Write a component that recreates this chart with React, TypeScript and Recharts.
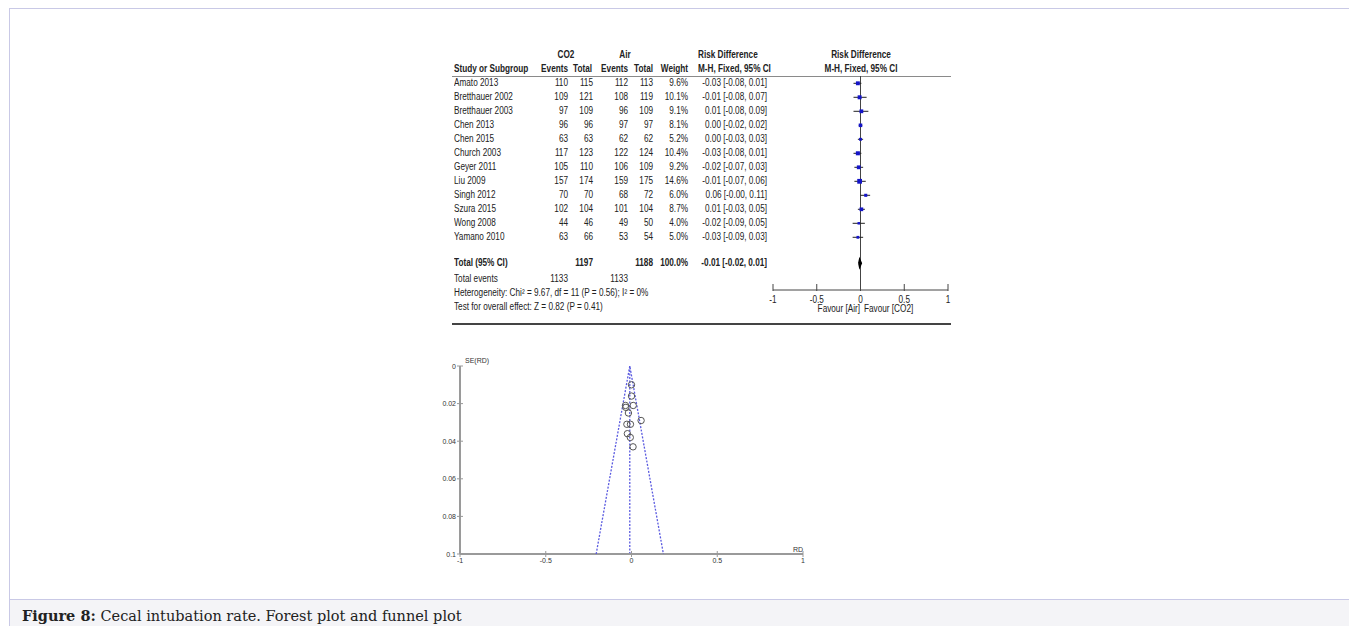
import React from "react";
import { ScatterChart, Scatter, XAxis, YAxis, ErrorBar, ReferenceLine } from "recharts";

// per-study counts and risk differences (CO2 vs Air)
const studies = [
  "Amato 2013",
  "Bretthauer 2002",
  "Bretthauer 2003",
  "Chen 2013",
  "Chen 2015",
  "Church 2003",
  "Geyer 2011",
  "Liu 2009",
  "Singh 2012",
  "Szura 2015",
  "Wong 2008",
  "Yamano 2010",
];
const co2Events = [110, 109, 97, 96, 63, 117, 105, 157, 70, 102, 44, 63];
const co2Total = [115, 121, 109, 96, 63, 123, 110, 174, 70, 104, 46, 66];
const airEvents = [112, 108, 96, 97, 62, 122, 106, 159, 68, 101, 49, 53];
const airTotal = [113, 119, 109, 97, 62, 124, 109, 175, 72, 104, 50, 54];
const weights = [9.6, 10.1, 9.1, 8.1, 5.2, 10.4, 9.2, 14.6, 6.0, 8.7, 4.0, 5.0];
const riskDiff = [-0.03, -0.01, 0.01, 0.0, 0.0, -0.03, -0.02, -0.01, 0.06, 0.01, -0.02, -0.03];
const ciLow = [-0.08, -0.08, -0.08, -0.02, -0.03, -0.08, -0.07, -0.07, -0.0, -0.03, -0.09, -0.09];
const ciHigh = [0.01, 0.07, 0.09, 0.02, 0.03, 0.01, 0.03, 0.06, 0.11, 0.05, 0.05, 0.03];

const totalCo2 = 1197;
const totalAir = 1188;
const totalEventsCo2 = 1133;
const totalEventsAir = 1133;
const pooled = -0.01;
const pooledLow = -0.02;
const pooledHigh = 0.01;
const heterogeneity = "Heterogeneity: Chi\u00b2 = 9.67, df = 11 (P = 0.56); I\u00b2 = 0%";
const overallTest = "Test for overall effect: Z = 0.82 (P = 0.41)";

// funnel plot: RD against its standard error
const funnelRd = [-0.035, -0.007, 0.009, 0.0, 0.0, -0.033, -0.018, -0.006, 0.056, 0.01, -0.024, -0.027];
const funnelSe = [0.021, 0.038, 0.043, 0.01, 0.016, 0.022, 0.025, 0.031, 0.029, 0.021, 0.036, 0.031];

const forestTicks = [-1, -0.5, 0, 0.5, 1];
const seTicks = [0, 0.02, 0.04, 0.06, 0.08, 0.1];

const ARIAL = "'Liberation Sans', Arial, sans-serif";
const NARROW_X = 0.82; // squeeze Arial to narrow proportions
const TEXT = "#222";

const ROW0 = 83.3;
const ROW_H = 14;
const TOTAL_ROW = studies.length + 0.85;

const fmt = (v: number) => (v < 0 || Object.is(v, -0) ? "-" + Math.abs(v).toFixed(2) : v.toFixed(2));
const ciText = (e: number, lo: number, hi: number) => `${fmt(e)} [${fmt(lo)}, ${fmt(hi)}]`;

function T({
  x,
  y,
  align = "left",
  bold = false,
  size = 10,
  children,
}: {
  x: number;
  y: number;
  align?: "left" | "right" | "center";
  bold?: boolean;
  size?: number;
  children: React.ReactNode;
}) {
  const w = 300;
  const left = align === "left" ? x : align === "right" ? x - w : x - w / 2;
  const origin = align === "left" ? "left center" : align === "right" ? "right center" : "center center";
  return (
    <div
      style={{
        position: "absolute",
        left,
        top: y - 7,
        width: w,
        height: 14,
        lineHeight: "14px",
        fontSize: size,
        fontFamily: ARIAL,
        fontWeight: bold ? 700 : 400,
        color: TEXT,
        textAlign: align,
        whiteSpace: "nowrap",
        transform: `scaleX(${NARROW_X})`,
        transformOrigin: origin,
      }}
    >
      {children}
    </div>
  );
}

function ForestTick({ x, y, payload }: any) {
  return (
    <g>
      <line x1={x} x2={x} y1={y - 6} y2={y + 1} stroke="#444" />
      <text
        transform={`translate(${x} ${y + 13}) scale(${NARROW_X} 1)`}
        textAnchor="middle"
        fontSize={10}
        fill={TEXT}
        fontFamily={ARIAL}
      >
        {payload.value}
      </text>
    </g>
  );
}

function SeTick({ x, y, payload }: any) {
  return (
    <g>
      <line x1={x - 3} x2={x + 3} y1={y} y2={y} stroke="#999" />
      <text x={x - 4} y={y + 2.5} textAnchor="end" fontSize={7} fill="#333" fontFamily={ARIAL}>
        {payload.value}
      </text>
    </g>
  );
}

function RdTick({ x, y, payload }: any) {
  return (
    <g>
      <line x1={x} x2={x} y1={y - 3} y2={y + 3} stroke="#999" />
      <text x={x} y={y + 8.5} textAnchor="middle" fontSize={7} fill="#333" fontFamily={ARIAL}>
        {payload.value}
      </text>
    </g>
  );
}

const WeightSquare = (props: any) => {
  const { cx, cy, payload } = props;
  const s = 1.25 * Math.sqrt(payload.w);
  return <rect x={cx - s / 2} y={cy - s / 2} width={s} height={s} fill="#1414c8" />;
};

const OpenCircle = (props: any) => (
  <circle cx={props.cx} cy={props.cy} r={3.2} fill="none" stroke="#555" strokeWidth={1} />
);

const NoSymbol = () => <g />;

function ForestPlot() {
  const data = studies.map((s, i) => ({
    name: s,
    rd: riskDiff[i],
    row: i,
    w: weights[i],
    err: [riskDiff[i] - ciLow[i], ciHigh[i] - riskDiff[i]],
  }));
  // diamond outline for the pooled estimate
  const diamond = [
    { rd: pooledLow, row: TOTAL_ROW },
    { rd: pooled, row: TOTAL_ROW - 0.3 },
    { rd: pooledHigh, row: TOTAL_ROW },
    { rd: pooled, row: TOTAL_ROW + 0.3 },
    { rd: pooledLow, row: TOTAL_ROW },
  ];
  return (
    <div style={{ position: "absolute", left: 763, top: 66 }}>
      <ScatterChart width={200} height={260} margin={{ top: 10, right: 15, bottom: 6, left: 10 }}>
        <XAxis
          type="number"
          dataKey="rd"
          domain={[-1, 1]}
          ticks={forestTicks}
          allowDataOverflow
          height={30}
          tickSize={0}
          tickMargin={0}
          tickLine={false}
          axisLine={{ stroke: "#444" }}
          tick={<ForestTick />}
        />
        <YAxis
          type="number"
          dataKey="row"
          domain={[(76 - ROW0) / ROW_H, (290 - ROW0) / ROW_H]}
          allowDataOverflow
          reversed
          hide
        />
        <ReferenceLine x={0} stroke="#444" />
        <Scatter data={data} shape={WeightSquare} isAnimationActive={false}>
          <ErrorBar dataKey="err" direction="x" width={0} stroke="#222" strokeWidth={1} />
        </Scatter>
        <Scatter
          data={diamond}
          shape={NoSymbol}
          line={{ stroke: "#000", strokeWidth: 1.4, fill: "#000" }}
          lineType="joint"
          isAnimationActive={false}
        />
      </ScatterChart>
    </div>
  );
}

function FunnelPlot() {
  const points = funnelRd.map((v, i) => ({ rd: v, se: funnelSe[i] }));
  const seMax = seTicks[seTicks.length - 1];
  const funnel = [
    { rd: pooled - 1.96 * seMax, se: seMax },
    { rd: pooled, se: 0 },
    { rd: pooled + 1.96 * seMax, se: seMax },
  ];
  return (
    <div style={{ position: "absolute", left: 420, top: 356 }}>
      <ScatterChart width={400} height={220} margin={{ top: 10, right: 17, bottom: 2, left: 10 }}>
        <XAxis
          type="number"
          dataKey="rd"
          domain={[-1, 1]}
          ticks={forestTicks}
          allowDataOverflow
          height={20}
          tickSize={0}
          tickMargin={0}
          tickLine={false}
          axisLine={{ stroke: "#9a9a9a", strokeWidth: 2 }}
          tick={<RdTick />}
        />
        <YAxis
          type="number"
          dataKey="se"
          domain={[0, seMax]}
          ticks={seTicks}
          allowDataOverflow
          reversed
          width={30}
          tickSize={0}
          tickMargin={0}
          tickLine={false}
          axisLine={{ stroke: "#9a9a9a", strokeWidth: 2 }}
          tick={<SeTick />}
        />
        <ReferenceLine x={pooled} stroke="#5a5ae0" strokeDasharray="2 1.5" strokeWidth={1.3} />
        <Scatter
          data={funnel}
          shape={NoSymbol}
          line={{ stroke: "#5a5ae0", strokeWidth: 1.3, strokeDasharray: "2 1.5" }}
          lineType="joint"
          isAnimationActive={false}
        />
        <Scatter data={points} shape={OpenCircle} isAnimationActive={false} />
      </ScatterChart>
      <div style={{ position: "absolute", left: 45, top: 1, fontSize: 7, fontFamily: ARIAL, color: "#333" }}>SE(RD)</div>
      <div style={{ position: "absolute", left: 373, top: 190, fontSize: 7, fontFamily: ARIAL, color: "#333" }}>RD</div>
    </div>
  );
}

export default function App() {
  const col = { co2Ev: 568, co2Tot: 593, airEv: 628, airTot: 653, weight: 688, ci: 767 };
  const left = 454;
  const totalY = ROW0 + TOTAL_ROW * ROW_H;
  return (
    <div style={{ position: "absolute", left: 0, top: 0, width: 1349, height: 626, background: "#fff", overflow: "hidden" }}>
      {/* page frame */}
      <div style={{ position: "absolute", left: 9, top: 8, width: 1340, height: 618, borderTop: "1px solid #c9c9e6", borderLeft: "1px solid #c9c9e6" }} />
      <div
        style={{
          position: "absolute",
          left: 10,
          top: 599,
          width: 1339,
          height: 27,
          borderTop: "1px solid #c9c9e6",
          background: "#f4f4f7",
        }}
      />
      <div
        style={{
          position: "absolute",
          left: 22,
          top: 607,
          fontFamily: "'DejaVu Serif', 'Liberation Serif', serif",
          fontSize: 14.5,
          lineHeight: "18px",
          color: "#222",
          whiteSpace: "nowrap",
        }}
      >
        <b>Figure 8:</b> Cecal intubation rate. Forest plot and funnel plot
      </div>

      {/* forest table header */}
      <T x={566} y={55} align="center" bold>CO2</T>
      <T x={625} y={55} align="center" bold>Air</T>
      <T x={698} y={55} bold>Risk Difference</T>
      <T x={861} y={55} align="center" bold>Risk Difference</T>
      <T x={left} y={69} bold>Study or Subgroup</T>
      <T x={col.co2Ev} y={69} align="right" bold>Events</T>
      <T x={col.co2Tot - 1} y={69} align="right" bold>Total</T>
      <T x={col.airEv} y={69} align="right" bold>Events</T>
      <T x={col.airTot} y={69} align="right" bold>Total</T>
      <T x={col.weight} y={69} align="right" bold>Weight</T>
      <T x={698} y={69} bold>M-H, Fixed, 95% CI</T>
      <T x={861} y={69} align="center" bold>M-H, Fixed, 95% CI</T>
      <div style={{ position: "absolute", left: 452, top: 76, width: 499, height: 1, background: "#8a8a8a" }} />

      {studies.map((s, i) => {
        const y = ROW0 + i * ROW_H;
        return (
          <React.Fragment key={s}>
            <T x={left} y={y}>{s}</T>
            <T x={col.co2Ev} y={y} align="right">{co2Events[i]}</T>
            <T x={col.co2Tot} y={y} align="right">{co2Total[i]}</T>
            <T x={col.airEv} y={y} align="right">{airEvents[i]}</T>
            <T x={col.airTot} y={y} align="right">{airTotal[i]}</T>
            <T x={col.weight} y={y} align="right">{weights[i].toFixed(1)}%</T>
            <T x={col.ci} y={y} align="right">{ciText(riskDiff[i], ciLow[i], ciHigh[i])}</T>
          </React.Fragment>
        );
      })}

      <T x={left} y={totalY} bold>Total (95% CI)</T>
      <T x={col.co2Tot} y={totalY} align="right" bold>{totalCo2}</T>
      <T x={col.airTot} y={totalY} align="right" bold>{totalAir}</T>
      <T x={col.weight} y={totalY} align="right" bold>100.0%</T>
      <T x={col.ci} y={totalY} align="right" bold>{ciText(pooled, pooledLow, pooledHigh)}</T>
      <T x={left} y={279}>Total events</T>
      <T x={col.co2Ev} y={279} align="right">{totalEventsCo2}</T>
      <T x={col.airEv} y={279} align="right">{totalEventsAir}</T>
      <T x={left} y={293}>{heterogeneity}</T>
      <T x={left} y={307}>{overallTest}</T>
      <T x={860} y={309} align="right">Favour [Air]</T>
      <T x={864} y={309}>Favour [CO2]</T>
      <div style={{ position: "absolute", left: 452, top: 323, width: 499, height: 2, background: "#444" }} />

      <ForestPlot />
      <FunnelPlot />
    </div>
  );
}
